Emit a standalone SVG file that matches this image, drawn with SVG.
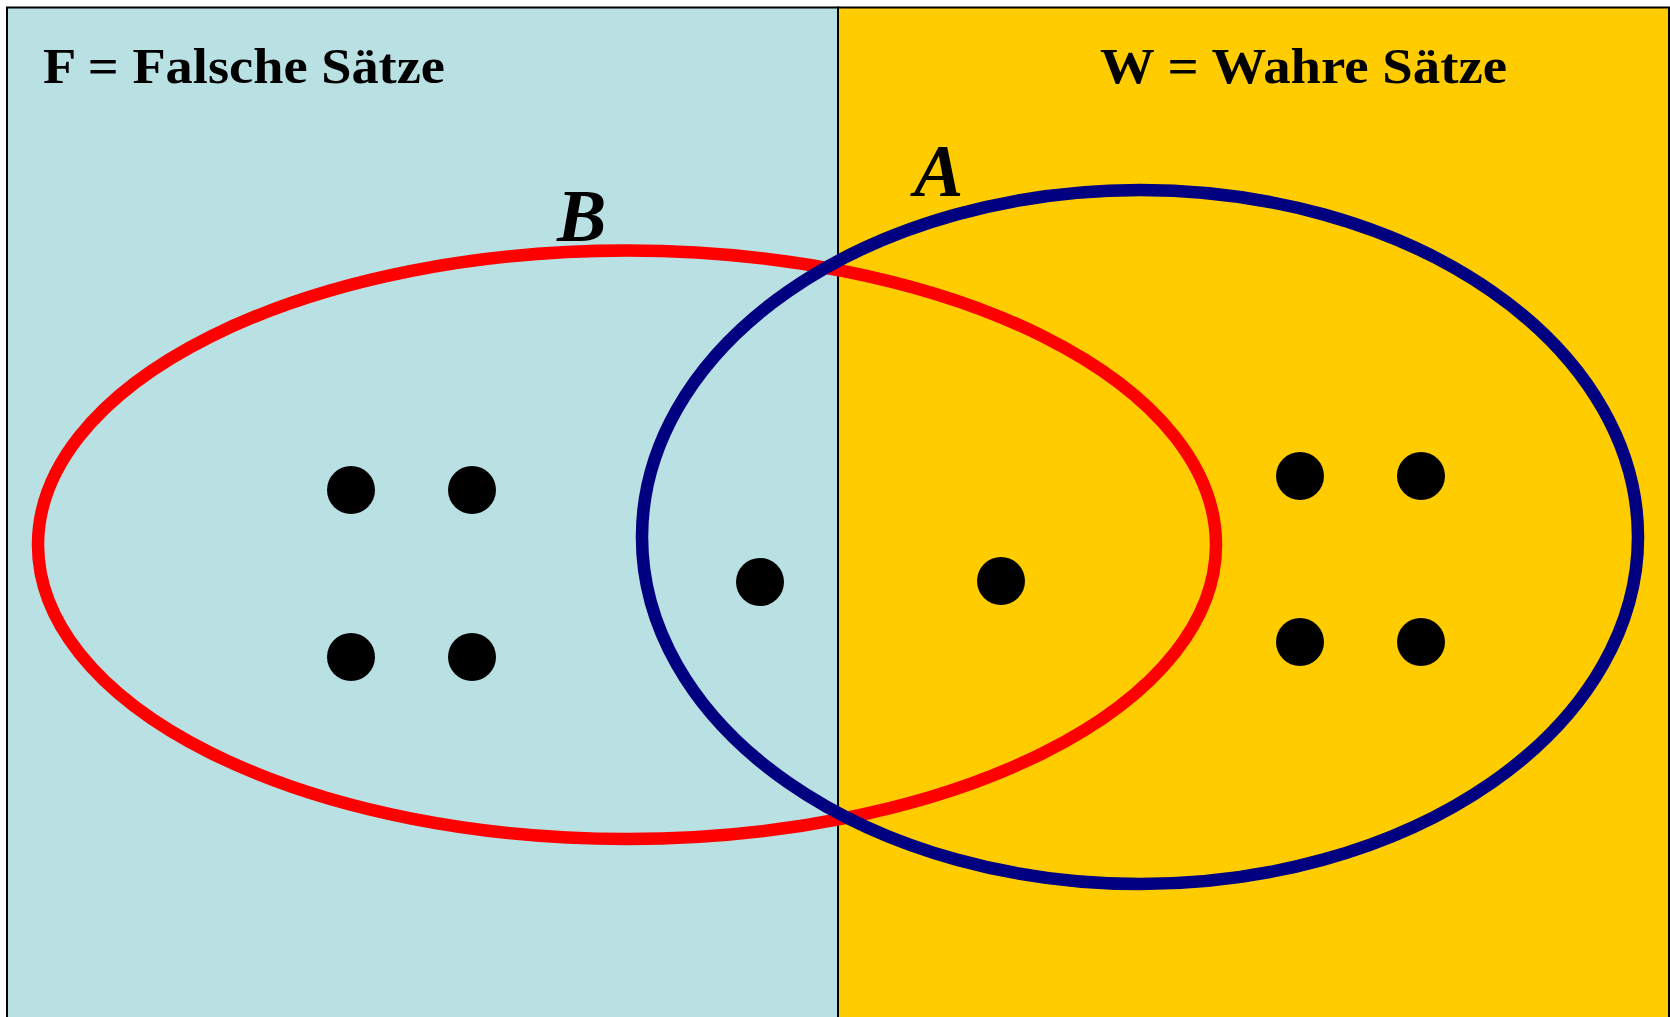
<svg xmlns="http://www.w3.org/2000/svg" width="1670" height="1017" viewBox="0 0 1670 1017">
<style>
.title{font-family:"Liberation Serif","DejaVu Serif",serif;font-weight:bold;font-size:50px;fill:#000}
.lbl{font-family:"Liberation Serif","DejaVu Serif",serif;font-weight:bold;font-style:italic;font-size:74px;fill:#000}
.dot{fill:#000}
.set{fill:none;stroke-width:12.5}
</style>
<rect width="1670" height="1017" fill="#fff"/>
<g id="false-region">
<rect x="7" y="7.5" width="831" height="1020" fill="#B9E0E3" stroke="#000" stroke-width="2"/>
<text class="title" x="43" y="83" textLength="402" lengthAdjust="spacingAndGlyphs">F = Falsche Sätze</text>
</g>
<g id="true-region">
<rect x="838" y="7.5" width="831" height="1020" fill="#FFCC00" stroke="#000" stroke-width="2"/>
<text class="title" x="1100" y="83" textLength="407" lengthAdjust="spacingAndGlyphs">W = Wahre Sätze</text>
</g>
<g id="connectors">
<g id="set-B">
<ellipse class="set" cx="627" cy="544.7" rx="589" ry="294.3" stroke="#FF0000"/>
<text class="lbl" x="557" y="241">B</text>
</g>
<g id="set-A">
<ellipse class="set" cx="1140" cy="537" rx="498" ry="347" stroke="#000080"/>
<text class="lbl" x="914" y="196">A</text>
</g>
</g>
<g id="dots">
<circle class="dot" cx="351" cy="490" r="24"/>
<circle class="dot" cx="472" cy="490" r="24"/>
<circle class="dot" cx="351" cy="657" r="24"/>
<circle class="dot" cx="472" cy="657" r="24"/>
<circle class="dot" cx="760" cy="582" r="24"/>
<circle class="dot" cx="1001" cy="581" r="24"/>
<circle class="dot" cx="1300" cy="476" r="24"/>
<circle class="dot" cx="1421" cy="476" r="24"/>
<circle class="dot" cx="1300" cy="642" r="24"/>
<circle class="dot" cx="1421" cy="642" r="24"/>
</g>
</svg>
